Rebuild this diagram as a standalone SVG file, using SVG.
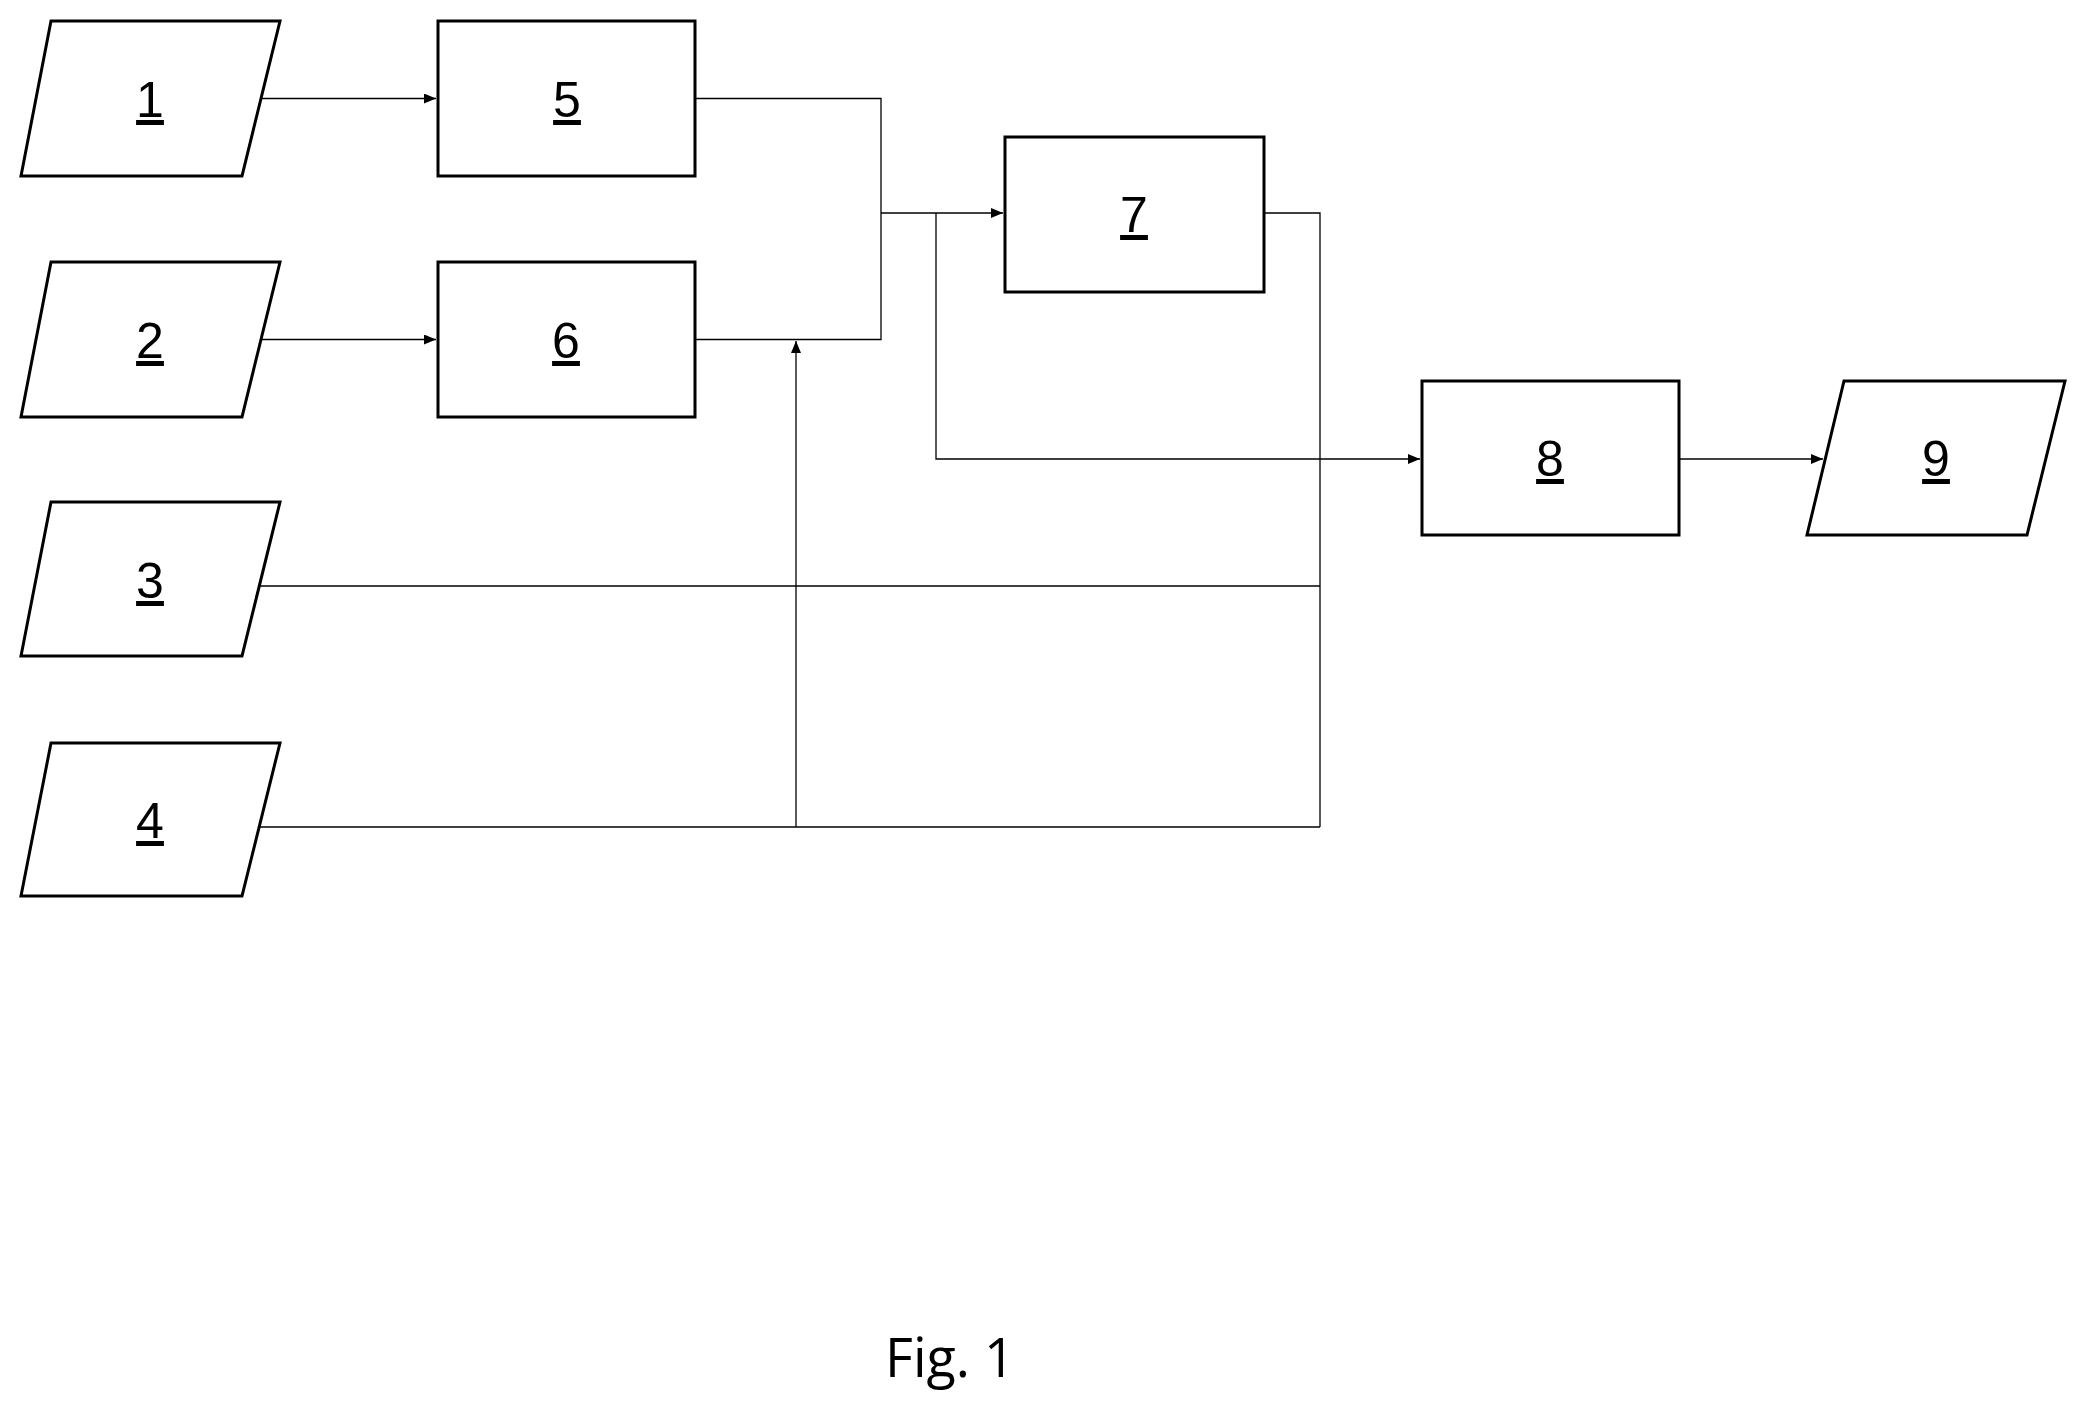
<svg xmlns="http://www.w3.org/2000/svg" width="2088" height="1415" viewBox="0 0 2088 1415">
<style>
.s{fill:#fff;stroke:#000;stroke-width:3}
.l{font-family:"Liberation Sans",Arial,sans-serif;font-size:50px;text-anchor:middle;text-decoration:underline}
.c{fill:none;stroke:#000;stroke-width:1.3}
</style>
<defs><marker id="a" markerWidth="12" markerHeight="10" refX="12" refY="5" orient="auto" markerUnits="userSpaceOnUse"><path d="M0,0L12,5L0,10z"/></marker></defs>
<rect width="2088" height="1415" fill="#fff"/>
<g id="connectors">
<path class="c" d="M261,98.5H436" marker-end="url(#a)"/>
<path class="c" d="M261,339.5H436" marker-end="url(#a)"/>
<path class="c" d="M695,98.5H881V339.5H695"/>
<path class="c" d="M881,213H1003" marker-end="url(#a)"/>
<path class="c" d="M936,213V459H1420" marker-end="url(#a)"/>
<path class="c" d="M1264,213H1320V827"/>
<path class="c" d="M248,586H1320"/>
<path class="c" d="M258,827H1320"/>
<path class="c" d="M796,827V341" marker-end="url(#a)"/>
<path class="c" d="M1679,459H1823" marker-end="url(#a)"/>
</g>
<g id="n1"><polygon class="s" points="51,21 280,21 242,176 21,176"/><text class="l" x="150" y="117">1</text></g>
<g id="n2"><polygon class="s" points="51,262 280,262 242,417 21,417"/><text class="l" x="150" y="358">2</text></g>
<g id="n3"><polygon class="s" points="51,502 280,502 242,656 21,656"/><text class="l" x="150" y="598">3</text></g>
<g id="n4"><polygon class="s" points="51,743 280,743 242,896 21,896"/><text class="l" x="150" y="838">4</text></g>
<g id="n5"><rect class="s" x="438" y="21" width="257" height="155"/><text class="l" x="567" y="117">5</text></g>
<g id="n6"><rect class="s" x="438" y="262" width="257" height="155"/><text class="l" x="566" y="358">6</text></g>
<g id="n7"><rect class="s" x="1005" y="137" width="259" height="155"/><text class="l" x="1134" y="232">7</text></g>
<g id="n8"><rect class="s" x="1422" y="381" width="257" height="154"/><text class="l" x="1550" y="476">8</text></g>
<g id="n9"><polygon class="s" points="1844,381 2065,381 2027,535 1807,535"/><text class="l" x="1936" y="476">9</text></g>
<text x="950" y="1377" font-family="'Open Sans','Liberation Sans',sans-serif" font-size="54" text-anchor="middle">Fig. 1</text>
</svg>
